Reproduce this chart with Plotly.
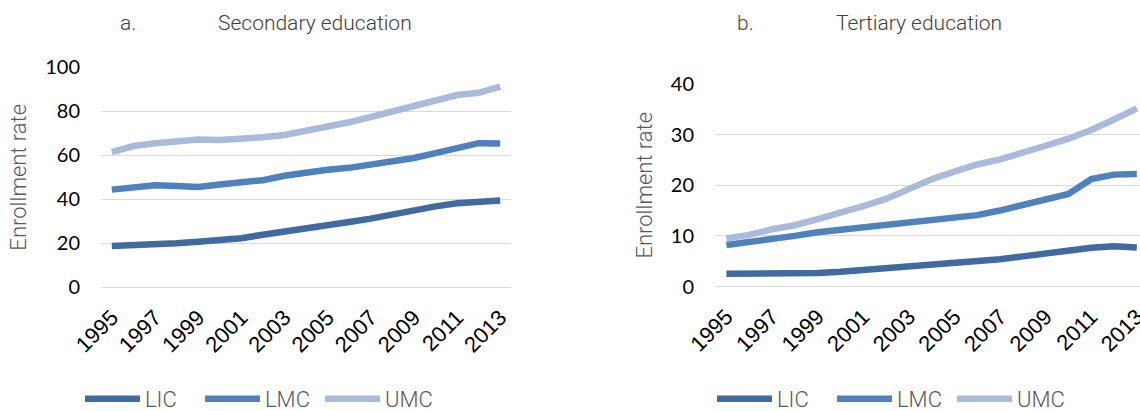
import plotly.graph_objects as go

years = list(range(1995, 2014))
tick_years = list(range(1995, 2014, 2))
series_names = ["LIC", "LMC", "UMC"]
series_colors = ["#416A9E", "#4F81BD", "#A9BADB"]

secondary_lic = [18.8, 19.0, 19.2, 20.0, 20.7, 21.3, 22.3, 23.9, 25.2, 26.6, 28.1, 29.7, 31.2, 33.3, 35.0, 36.8, 38.2, 39.1, 39.5]
secondary_lmc = [44.4, 45.3, 46.4, 46.1, 45.6, 46.7, 47.4, 48.7, 50.7, 52.3, 53.4, 54.3, 55.6, 57.0, 58.8, 61.0, 63.5, 65.5, 65.4]
secondary_umc = [61.4, 64.2, 65.5, 66.4, 67.2, 67.0, 67.4, 68.2, 69.2, 70.9, 72.8, 75.0, 77.4, 80.0, 82.5, 85.1, 87.4, 88.4, 91.2]

tertiary_lic = [2.5, 2.5, 2.5, 2.5, 2.65, 2.9, 3.25, 3.5, 3.85, 4.1, 4.55, 4.95, 5.4, 5.95, 6.55, 7.3, 7.65, 7.95, 7.7]
tertiary_lmc = [8.2, 8.7, 9.4, 10.0, 10.7, 11.2, 11.6, 12.0, 12.4, 13.0, 13.5, 14.1, 15.0, 16.0, 17.0, 18.3, 21.2, 22.1, 22.2]
tertiary_umc = [9.5, 10.2, 11.3, 12.1, 13.3, 14.5, 15.9, 17.3, 19.2, 21.2, 22.7, 24.1, 25.1, 26.3, 27.8, 29.2, 30.9, 33.0, 35.2]

secondary = [secondary_lic, secondary_lmc, secondary_umc]
tertiary = [tertiary_lic, tertiary_lmc, tertiary_umc]

light = "Roboto"
gray_text = "#595959"
title_color = "#404040"

fig = go.Figure()
for name, color, vals in zip(series_names, series_colors, secondary):
    fig.add_trace(go.Scatter(x=years, y=vals, mode="lines", name=name,
                             line=dict(color=color, width=6.5),
                             xaxis="x", yaxis="y", legend="legend"))
for name, color, vals in zip(series_names, series_colors, tertiary):
    fig.add_trace(go.Scatter(x=years, y=vals, mode="lines", name=name,
                             line=dict(color=color, width=6.5),
                             xaxis="x2", yaxis="y2", legend="legend2"))

W, H = 1140, 411

def px_x(p):
    return p / W

def px_y(p):
    return (H - p) / H

xcommon = dict(showgrid=False, zeroline=False, showline=False, ticks="",
               tickvals=tick_years, ticktext=[str(y) for y in tick_years],
               tickangle=-45, tickfont=dict(family="Liberation Sans", size=22, color="#000000"),
               ticklabelstandoff=12, ticklabeloverflow="allow", automargin=False, fixedrange=True)
ycommon = dict(showgrid=True, gridcolor="#D9D9D9", gridwidth=1.4, zeroline=True,
               zerolinecolor="#D9D9D9", zerolinewidth=1.4, showline=False, ticks="",
               tickfont=dict(family="Lato", size=20, color="#000000"),
               ticklabelstandoff=20, automargin=False, fixedrange=True)
ytitle = dict(text="Enrollment rate",
              font=dict(family=light, size=22, color=gray_text, weight=300), standoff=12)
legend_font = dict(family=light, size=22, color=gray_text, weight=300)
title_font = dict(family=light, size=21, color=title_color, weight=300)

fig.update_layout(
    width=W, height=H,
    margin=dict(l=0, r=0, t=0, b=0, autoexpand=False),
    paper_bgcolor="white", plot_bgcolor="white",
    xaxis=dict(domain=[px_x(101), px_x(511)], range=[1994.5, 2013.5], anchor="y", **xcommon),
    yaxis=dict(domain=[px_y(287.3), px_y(67.3)], range=[0, 100], dtick=20, anchor="x",
               title=ytitle, **ycommon),
    xaxis2=dict(domain=[px_x(715), 1.0], range=[1994.5, 2013.14], anchor="y2", **xcommon),
    yaxis2=dict(domain=[px_y(286.5), px_y(84)], range=[0, 40], dtick=10, anchor="x2",
                title=ytitle, **ycommon),
    legend=dict(orientation="h", x=px_x(80), xanchor="left", y=px_y(399), yanchor="middle",
                font=legend_font, bgcolor="rgba(0,0,0,0)", itemwidth=55, entrywidth=50,
                traceorder="normal"),
    legend2=dict(orientation="h", x=px_x(712), xanchor="left", y=px_y(399), yanchor="middle",
                 font=legend_font, bgcolor="rgba(0,0,0,0)", itemwidth=55, entrywidth=50,
                 traceorder="normal"),
    annotations=[
        dict(text="a.", x=px_x(118), y=px_y(23), xref="paper", yref="paper", showarrow=False,
             xanchor="left", yanchor="middle", font=title_font),
        dict(text="Secondary education", x=px_x(216), y=px_y(23), xref="paper", yref="paper",
             xanchor="left", yanchor="middle", showarrow=False, font=title_font),
        dict(text="b.", x=px_x(735), y=px_y(23), xref="paper", yref="paper", showarrow=False,
             xanchor="left", yanchor="middle", font=title_font),
        dict(text="Tertiary education", x=px_x(834), y=px_y(23), xref="paper", yref="paper",
             xanchor="left", yanchor="middle", showarrow=False, font=title_font),
    ],
)

fig.write_html("out.html",
               config={"displayModeBar": False},
               post_script="document.body.style.margin='0';document.body.style.overflow='hidden';")
